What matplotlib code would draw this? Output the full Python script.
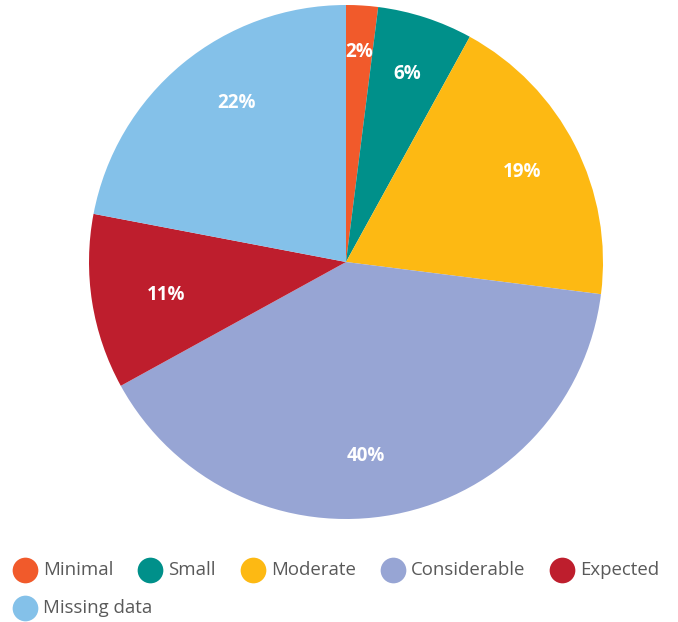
import numpy as np
import matplotlib.pyplot as plt

# data
categories = ['Minimal', 'Small', 'Moderate', 'Considerable', 'Expected', 'Missing data']
shares = [2, 6, 19, 40, 11, 22]
colors = ['#F15A2B', '#00908A', '#FDB913', '#97A5D4', '#BE1E2D', '#84C1E9']
label_dist = [0.82, 0.77, 0.77, 0.76, 0.71, 0.75]
label_shift = [0, 0, 0, -5, 1.5, -5]  # degrees, nudges label along the arc

plt.rcParams['font.family'] = ['Open Sans', 'DejaVu Sans']

fig = plt.figure(figsize=(6.78, 6.22), dpi=100)
W, H = 678, 622

# pie placed in pixel box: centre (346, 262), radius 257
cx, cy, r = 346, 262, 257
ax = fig.add_axes([(cx - r) / W, (H - cy - r) / H, 2 * r / W, 2 * r / H])
wedges, _ = ax.pie(shares, colors=colors, startangle=90, counterclock=False,
                   radius=1, wedgeprops=dict(linewidth=0))
ax.set_xlim(-1, 1)
ax.set_ylim(-1, 1)
ax.axis('off')

for w, val, d, s in zip(wedges, shares, label_dist, label_shift):
    ang = np.deg2rad((w.theta1 + w.theta2) / 2 + s)
    ax.text(d * np.cos(ang), d * np.sin(ang), f'{val}%', ha='center', va='center',
            color='white', fontsize=13.5, fontweight='bold')

# legend drawn by hand, flowing left to right and wrapping
lax = fig.add_axes([0, 0, 1, 1])
lax.set_xlim(0, W)
lax.set_ylim(H, 0)
lax.axis('off')
fig.canvas.draw()
renderer = fig.canvas.get_renderer()

rows_y = [570, 608]
x = 25
row = 0
for name, col in zip(categories, colors):
    t = lax.text(0, 0, name, fontsize=13.4, color='#595959', va='center')
    tw = t.get_window_extent(renderer).width
    if x + 18 + tw > W - 5:
        row += 1
        x = 25
    y = rows_y[row]
    lax.plot([x], [y], 'o', ms=18.5, color=col, mec='none')
    t.set_position((x + 18, y))
    x = x + 18 + tw + 37

fig.savefig('out.png', dpi=100)
